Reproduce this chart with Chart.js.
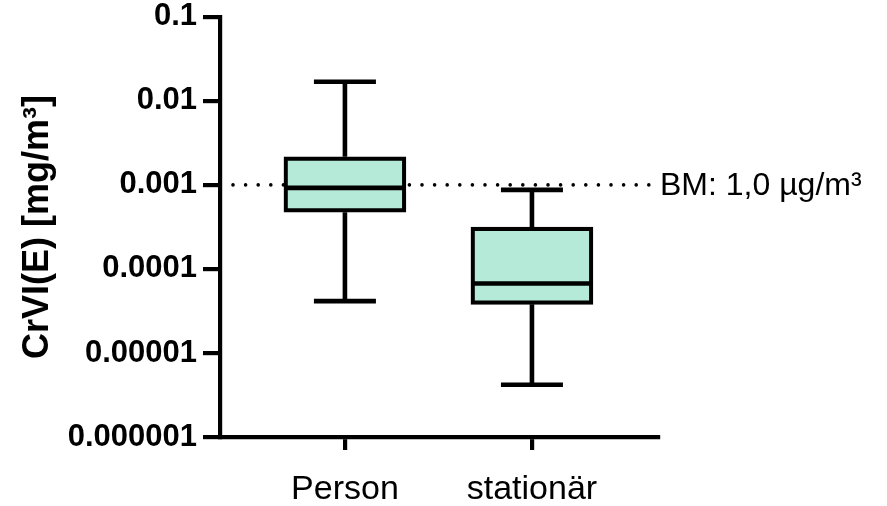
<!DOCTYPE html>
<html>
<head>
<meta charset="utf-8">
<script src="https://cdn.jsdelivr.net/npm/chart.js@4.4.0/dist/chart.umd.min.js"></script>
<style>
  html, body { margin:0; padding:0; background:#fff; }
  #wrap { width:887px; height:506px; }
</style>
</head>
<body>
<div id="wrap"><canvas id="chart"></canvas></div>
<script>
// ---------------------------
// DATA
// ---------------------------
const categories = ["Person", "stationär"];
const whiskerMin = [0.0000414, 0.00000419];
const quart1     = [0.000474, 0.0000379];
const medians    = [0.000922, 0.0000671];
const quart3     = [0.00216, 0.000315];
const whiskerMax = [0.0169, 0.000873];

const yTickValues = [0.000001, 0.00001, 0.0001, 0.001, 0.01, 0.1];
const yTickLabels = ["0.000001", "0.00001", "0.0001", "0.001", "0.01", "0.1"];

const refValue = 0.001;
const refLabel = "BM: 1,0 µg/m³";

// ---------------------------
// STYLE
// ---------------------------
const FONT = "'Liberation Sans', Arial, sans-serif";
const BOX_FILL = "#b4ead7";
const BOX_W = 122;
const CAP_W = 62;

// whiskers, medians and the reference line
const boxExtras = {
  id: "boxExtras",
  beforeDatasetsDraw(chart){
    const {ctx, scales:{x, y}} = chart;
    const py = y.getPixelForValue(refValue);
    ctx.save();
    ctx.strokeStyle = "#000";
    ctx.lineWidth = 3.6;
    ctx.lineCap = "round";
    ctx.setLineDash([0, 12.6]);
    ctx.beginPath();
    ctx.moveTo(x.left + 13, py);
    ctx.lineTo(x.right - 8, py);
    ctx.stroke();
    ctx.setLineDash([]);
    ctx.fillStyle = "#000";
    ctx.font = "32px " + FONT;
    ctx.textAlign = "left";
    ctx.textBaseline = "middle";
    ctx.fillText(refLabel, x.right + 2, py + 1);
    ctx.restore();
  },
  afterDatasetsDraw(chart){
    const {ctx, scales:{x, y}} = chart;
    ctx.save();
    ctx.strokeStyle = "#000";
    ctx.lineCap = "butt";
    categories.forEach((c, i)=>{
      const px = x.getPixelForValue(i + 1);
      const yMax = y.getPixelForValue(whiskerMax[i]);
      const yMin = y.getPixelForValue(whiskerMin[i]);
      const yQ1 = y.getPixelForValue(quart1[i]);
      const yQ3 = y.getPixelForValue(quart3[i]);
      const yMed = y.getPixelForValue(medians[i]);
      ctx.lineWidth = 4.6;
      ctx.beginPath();
      ctx.moveTo(px, yMax); ctx.lineTo(px, yQ3);
      ctx.moveTo(px, yQ1); ctx.lineTo(px, yMin);
      ctx.moveTo(px - CAP_W/2, yMax); ctx.lineTo(px + CAP_W/2, yMax);
      ctx.moveTo(px - CAP_W/2, yMin); ctx.lineTo(px + CAP_W/2, yMin);
      ctx.stroke();
      ctx.lineWidth = 4.6;
      ctx.beginPath();
      ctx.moveTo(px - BOX_W/2 + 2, yMed); ctx.lineTo(px + BOX_W/2 - 2, yMed);
      ctx.stroke();
    });
    ctx.restore();
  }
};

new Chart(document.getElementById("chart"), {
  type: "bar",
  data: {
    datasets: [{
      data: categories.map((c, i)=>({x: i + 1, y: [quart1[i], quart3[i]]})),
      backgroundColor: BOX_FILL,
      borderColor: "#000",
      borderWidth: 4.2,
      borderSkipped: false,
      barThickness: BOX_W
    }]
  },
  options: {
    responsive: true,
    maintainAspectRatio: false,
    animation: false,
    layout: { padding: { left: 0, top: 11, right: 229, bottom: 0 } },
    plugins: { legend: { display: false }, tooltip: { enabled: false } },
    scales: {
      x: {
        type: "linear",
        min: 0.332,
        max: 2.674,
        offset: false,
        afterBuildTicks: (s)=>{ s.ticks = categories.map((c, i)=>({value: i + 1})); },
        afterFit: (s)=>{ s.height = 69; },
        ticks: {
          callback: (v, i)=>categories[i],
          color: "#000",
          font: { family: FONT, size: 34, lineHeight: 1 },
          padding: 23,
          maxRotation: 0,
          autoSkip: false
        },
        grid: { offset: false, drawOnChartArea: false, drawTicks: true, tickLength: 13, lineWidth: 4.2, color: "#000" },
        border: { display: true, color: "#000", width: 4.2 }
      },
      y: {
        type: "logarithmic",
        min: 0.000001,
        max: 0.1,
        afterBuildTicks: (s)=>{ s.ticks = yTickValues.map(v=>({value: v})); },
        afterFit: (s)=>{ s.width = 220; },
        ticks: {
          callback: (v, i)=>yTickLabels[i],
          color: "#000",
          font: { family: FONT, size: 31, weight: "bold", lineHeight: 0.7 },
          padding: 6,
          autoSkip: false
        },
        grid: { drawOnChartArea: false, drawTicks: true, tickLength: 17, lineWidth: 4.2, color: "#000" },
        border: { display: true, color: "#000", width: 4.2 },
        title: {
          display: true,
          text: "CrVI(E) [mg/m³]",
          color: "#000",
          font: { family: FONT, size: 36, weight: "bold", lineHeight: 1.2 },
          padding: { top: 16, bottom: 0 }
        }
      }
    }
  },
  plugins: [boxExtras]
});
</script>
</body>
</html>
